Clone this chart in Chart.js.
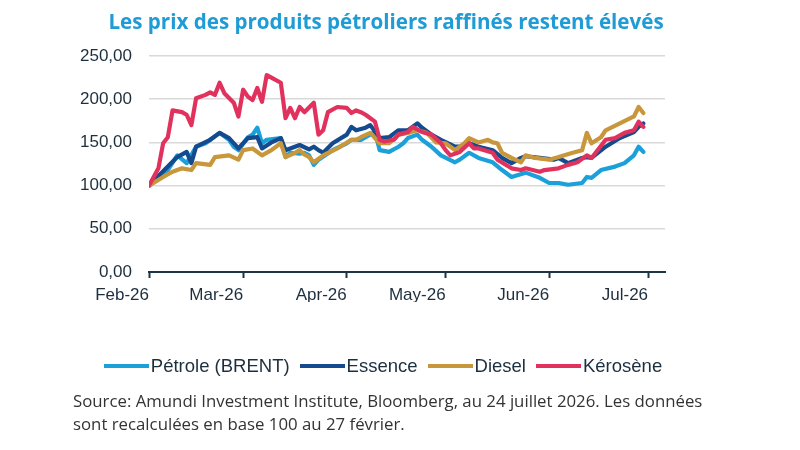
<!DOCTYPE html>
<html><head><meta charset="utf-8">
<script src="https://cdn.jsdelivr.net/npm/chart.js@4.4.1/dist/chart.umd.min.js"></script>
<style>
html,body{margin:0;padding:0;background:#fff;}
#wrap{position:relative;width:800px;height:450px;overflow:hidden;background:#fff;}
#c{position:absolute;left:0;top:0;}
#title{position:absolute;left:0;width:772px;top:7px;text-align:center;font:700 20.6px "Open Sans",sans-serif;color:#1f9bd5;white-space:nowrap;}
#legend{position:absolute;left:0;width:766px;top:355px;text-align:center;font:18.5px "Liberation Sans",Arial,sans-serif;color:#1d2e3d;white-space:nowrap;}
#legend .it{display:inline-block;margin:0 5px;}
#legend .sw{display:inline-block;width:45px;height:4px;vertical-align:middle;margin-right:2px;position:relative;top:-1px;}
#source{position:absolute;left:73px;top:389px;font:16.8px "Open Sans",sans-serif;line-height:23px;color:#333;white-space:nowrap;}
</style></head>
<body><div id="wrap">
<canvas id="c" width="800" height="450"></canvas>
<div id="title">Les prix des produits pétroliers raffinés restent élevés</div>
<div id="legend"></div>
<div id="source">Source: Amundi Investment Institute, Bloomberg, au 24 juillet 2026. Les données<br>sont recalculées en base 100 au 27 février.</div>
</div>
<script>
// Tick labels (x axis: trading-day index of each month marker)
const xTickDays = [0, 20, 42, 63, 85, 106];
const xTickLabels = ['Feb-26', 'Mar-26', 'Apr-26', 'May-26', 'Jun-26', 'Jul-26'];
const yTickValues = [0, 50, 100, 150, 200, 250];

const seriesNames = ['Pétrole (BRENT)', 'Essence', 'Diesel', 'Kérosène'];
const seriesColors = ['#1ca0da', '#134b8e', '#c8963b', '#e1325e'];

// Pétrole (BRENT)
const brentDay = [0,4,6,8,10,12,15,17,18,19,21,22,23,24,25,28,29,30,32,33,34,35,36,39,42,43,45,46,48,49,51,53,54,55,57,58,60,62,65,66,68,70,73,75,77,80,83,85,87,89,92,93,94,96,99,101,103,104,105];
const brentVal = [100,118,135,126,145,149,161,153,145,141,156,159,167,149,153,155,133,138,137,138,135,124,130,141,149,153,153,156,162,141,139,145,149,155,159,153,145,135,127,130,138,132,127,118,110,115,109,103,103,101,103,110,109,118,122,126,135,145,139];

// Essence
const essDay = [0,4,6,8,9,10,13,15,17,19,21,23,24,26,28,29,31,32,34,35,36,37,39,42,43,44,46,47,49,51,53,55,57,58,60,62,65,66,68,70,73,75,77,79,80,83,86,87,89,92,93,94,97,100,103,104,105];
const essVal = [100,122,133,139,126,145,153,161,155,143,155,156,143,150,155,141,145,147,142,145,141,138,149,159,168,164,167,170,155,156,164,164,172,167,159,153,145,145,149,145,141,132,126,132,134,132,130,132,126,132,133,132,145,155,162,168,172];

// Diesel
const dieDay = [0,3,5,7,9,10,13,14,17,19,20,22,24,26,28,29,31,32,33,34,35,37,40,43,44,45,47,49,51,53,55,57,59,61,63,65,67,68,70,72,73,74,75,77,79,80,82,85,87,90,92,93,94,96,97,100,103,104,105];
const dieVal = [100,110,116,120,118,126,124,133,135,130,141,143,135,141,149,133,138,141,136,133,127,135,143,153,153,156,161,149,149,159,161,164,161,150,149,141,149,155,150,153,150,149,138,132,127,135,132,130,133,138,141,161,149,156,164,172,180,191,184];

// Kérosène
const keroDay = [0,2,3,4,5,7,8,9,10,12,13,14,15,16,18,19,20,21,22,23,24,25,26,28,29,30,31,32,33,35,36,37,38,40,42,43,44,45,46,48,49,50,52,53,55,56,58,60,62,63,64,66,68,69,70,73,74,77,79,80,83,84,87,89,91,93,94,97,99,101,103,104,105];
const keroVal = [100,120,149,156,187,185,182,170,201,205,208,205,219,207,196,180,211,203,199,213,197,228,225,219,178,190,178,191,185,196,159,164,185,191,190,184,187,185,182,174,153,151,153,159,162,168,162,159,149,141,135,139,149,143,143,138,130,120,118,120,116,118,120,124,127,135,132,153,155,161,164,174,168];

const seriesDays = [brentDay, essDay, dieDay, keroDay];
const seriesVals = [brentVal, essVal, dieVal, keroVal];

const toPts = (d, v) => d.map((x, i) => ({x: x, y: v[i]}));

const datasets = seriesNames.map((name, k) => ({
  label: name,
  data: toPts(seriesDays[k], seriesVals[k]),
  borderColor: seriesColors[k],
  backgroundColor: seriesColors[k],
  borderWidth: 4.2,
  pointRadius: 0,
  tension: 0,
  borderJoinStyle: 'round',
  borderCapStyle: 'round',
  order: seriesNames.length - k
}));

const axisFont = {family: '"Liberation Sans", Arial, sans-serif', size: 17};
const axisColor = '#1d2e3d';

new Chart(document.getElementById('c'), {
  type: 'line',
  data: {datasets: datasets},
  options: {
    responsive: false,
    animation: false,
    layout: {padding: {left: 73, right: 135, top: 56, bottom: 148}},
    plugins: {legend: {display: false}, title: {display: false}, tooltip: {enabled: false}},
    scales: {
      x: {
        type: 'linear', min: 0, max: 109.6,
        afterBuildTicks: s => { s.ticks = xTickDays.map(v => ({value: v})); },
        afterFit: s => { s.height = 30; },
        ticks: {
          callback: (v, i) => xTickLabels[i],
          align: 'end', font: axisFont, color: axisColor, padding: 7,
          maxRotation: 0, autoSkip: false
        },
        grid: {drawOnChartArea: false, drawTicks: true, tickLength: 6, tickColor: '#1d3445', tickWidth: 2},
        border: {display: true, color: '#1d3445', width: 2}
      },
      y: {
        min: 0, max: 250,
        afterBuildTicks: s => { s.ticks = yTickValues.map(v => ({value: v})); },
        afterFit: s => { s.width = 76; },
        ticks: {
          callback: v => v.toFixed(2).replace('.', ','),
          font: axisFont, color: axisColor, padding: 17
        },
        grid: {color: '#d9d9d9', lineWidth: 1.5, drawTicks: false},
        border: {display: false}
      }
    }
  }
});

// Legend
const lg = document.getElementById('legend');
seriesNames.forEach((name, k) => {
  const it = document.createElement('span');
  it.className = 'it';
  const sw = document.createElement('span');
  sw.className = 'sw';
  sw.style.background = seriesColors[k];
  it.appendChild(sw);
  it.appendChild(document.createTextNode(name));
  lg.appendChild(it);
});
</script>
</body></html>
